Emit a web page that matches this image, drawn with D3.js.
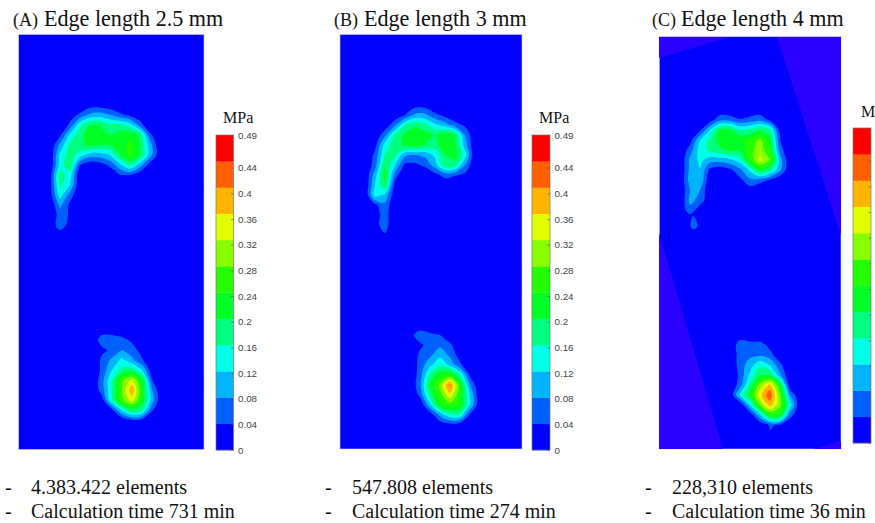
<!DOCTYPE html>
<html>
<head>
<meta charset="utf-8">
<script src="https://cdn.jsdelivr.net/npm/d3@7"></script>
<style>
  body { margin: 0; background: #fff; overflow: hidden; }
  svg { display: block; }
  .serif { font-family: "Liberation Serif", serif; fill: #111; }
  .cbar text { font-family: "Liberation Sans", sans-serif; font-size: 9.8px; fill: #444; }
</style>
</head>
<body>
<script>
// Pressure, MPa, one grid per foot region
const forefootA = [
  [0,0,0,0,.02,.02,.01,0,0,0,0,0],
  [0,0,.02,.05,.09,.10,.08,.05,.03,.01,0,0],
  [0,0,.05,.15,.20,.20,.17,.17,.14,.06,0,0],
  [0,.03,.13,.18,.24,.22,.20,.22,.23,.19,.05,0],
  [0,.09,.17,.19,.21,.20,.20,.22,.25,.20,.10,0],
  [0,.13,.18,.14,.10,.10,.12,.20,.25,.20,.10,.01],
  [0,.14,.19,.04,.01,.02,.05,.11,.17,.10,.02,0],
  [.02,.18,.14,0,0,0,0,.04,.04,.01,0,0],
  [.02,.17,.12,0,0,0,0,0,0,0,0,0],
  [.02,.14,.06,0,0,0,0,0,0,0,0,0],
  [0,.09,.03,0,0,0,0,0,0,0,0,0],
  [0,.06,.035,0,0,0,0,0,0,0,0,0],
  [0,.07,.02,0,0,0,0,0,0,0,0,0],
  [0,.01,0,0,0,0,0,0,0,0,0,0]
];
const heelA = [
  [0,.02,.02,0,0,0,0,0],
  [.01,.06,.06,.055,.03,0,0,0],
  [0,.03,.05,.08,.06,.02,0,0],
  [0,.05,.09,.13,.09,.045,0,0],
  [0,.05,.12,.17,.18,.12,.01,0],
  [0,.065,.16,.27,.33,.22,.04,0],
  [0,.06,.16,.28,.39,.24,.08,0],
  [0,.02,.16,.27,.34,.23,.10,0],
  [0,0,.03,.13,.20,.17,.045,0],
  [0,0,0,.01,.04,.03,0,0],
  [0,0,0,0,0,0,0,0]
];
const forefootB = [
  [0,0,0,0,0,.02,.02,0,0,0,0,0,0],
  [0,0,0,.01,.04,.09,.09,.05,.025,0,0,0,0],
  [0,0,.01,.07,.16,.19,.17,.13,.10,.06,.03,0,0],
  [0,0,.07,.17,.21,.23,.22,.20,.23,.20,.08,0,0],
  [0,.025,.14,.18,.21,.22,.20,.18,.23,.21,.10,0,0],
  [0,.05,.16,.17,.09,.08,.09,.13,.20,.22,.14,0,0],
  [0,.06,.20,.12,.03,.03,.05,.10,.19,.18,.08,0,0],
  [0,.10,.22,.06,0,0,0,.025,.055,.045,.03,0,0],
  [0,.12,.20,.02,0,0,0,0,.01,0,0,0,0],
  [0,.14,.11,.01,0,0,0,0,0,0,0,0,0],
  [0,.03,.07,0,0,0,0,0,0,0,0,0,0],
  [0,.02,.06,0,0,0,0,0,0,0,0,0,0],
  [0,.025,.06,0,0,0,0,0,0,0,0,0,0],
  [0,0,.035,0,0,0,0,0,0,0,0,0,0],
  [0,0,0,0,0,0,0,0,0,0,0,0,0]
];
const heelB = [
  [0,0,0,0,0,0,0,0],
  [.02,.07,.05,.04,0,0,0,0],
  [0,.03,.06,.07,.05,0,0,0],
  [0,.05,.07,.11,.07,.02,0,0],
  [0,.055,.11,.15,.11,.05,0,0],
  [0,.06,.17,.23,.25,.16,.03,0],
  [0,.07,.21,.29,.41,.25,.08,0],
  [0,.05,.18,.26,.35,.24,.12,0],
  [0,0,.11,.23,.26,.24,.12,0],
  [0,0,.01,.09,.15,.15,.03,0],
  [0,0,0,.01,.02,.01,0,0]
];
const forefootC = [
  [0,0,0,0,.01,0,0,0,.01,0,0,0],
  [0,0,0,.02,.07,.07,.045,.06,.07,.03,0,0],
  [0,0,.03,.12,.21,.21,.16,.17,.20,.17,.02,0],
  [0,.02,.12,.17,.22,.23,.23,.25,.29,.22,.04,0],
  [0,.06,.14,.17,.19,.21,.21,.26,.31,.24,.06,0],
  [0,.09,.13,.10,.10,.11,.14,.25,.33,.28,.10,0],
  [0,.09,.12,.03,.01,.03,.07,.13,.22,.17,.09,0],
  [0,.10,.12,0,0,0,.03,.07,.06,.035,0,0],
  [0,.08,.08,0,0,0,0,.02,0,0,0,0],
  [0,.09,.07,0,0,0,0,0,0,0,0,0],
  [0,.07,.01,0,0,0,0,0,0,0,0,0],
  [0,0,0,0,0,0,0,0,0,0,0,0]
];
const toeDripC = [
  [0,0,0],
  [0,.05,.01],
  [0,.08,.03],
  [0,.07,.035],
  [0,0,0]
];
const heelC = [
  [0,.02,0,0,0,0,0,0],
  [.01,.06,.06,.06,.025,0,0,0],
  [0,.06,.07,.075,.055,.01,0,0],
  [0,.06,.10,.15,.12,.05,0,0],
  [0,.05,.13,.20,.20,.09,0,0],
  [0,.06,.17,.30,.37,.23,0,0],
  [0,.13,.22,.35,.43,.28,.08,0],
  [0,0,.12,.28,.38,.29,.14,0],
  [0,0,.01,.11,.24,.23,.06,0],
  [0,0,0,.01,.045,.035,0,0]
];

const levels = [.04,.08,.12,.16,.2,.24,.28,.32,.36,.4,.44];
const bandColors = ["#0000ff","#0060ff","#00b4ff","#00ffe6","#00ff80","#00ff24","#24ff00",
    "#87ff00","#e1ff00","#ffb400","#ff5f00","#ff0000"];
const tickValues = [0,.04,.08,.12,.16,.2,.24,.28,.32,.36,.4,.44,.49];

const panelLetters = ["(A)", "(B)", "(C)"];
const edgeLengths = ["Edge length 2.5 mm", "Edge length 3 mm", "Edge length 4 mm"];
const elementCounts = ["4.383.422 elements", "547.808 elements", "228,310 elements"];
const calcTimes = ["Calculation time 731 min", "Calculation time 274 min", "Calculation time 36 min"];
const unitLabels = ["MPa", "MPa", "M"];

// Corners of the parts of plot C that the tilted mesh does not cover
const outsideMeshC = [
  [[659,37],[730,37],[659,58]],
  [[777,37],[841,37],[841,235]],
  [[659,233],[723,449],[659,449]],
  [[813,449],[841,441],[841,449]]
];

// Layout
const panels = [
  { plot: [18.7,204,34.5,449.5], bar: [216,233.5,135,450], unitX: 223, letterX: 13, titleX: 44, dashX: 5, textX: 31,
    grids: [{ v: forefootA, x0: 50, y0: 105, step: 10 }, { v: heelA, x0: 92, y0: 330, step: 10 }] },
  { plot: [340,522,34.5,449], bar: [532,550,135,450], unitX: 539, letterX: 334, titleX: 364, dashX: 325, textX: 352,
    grids: [{ v: forefootB, x0: 365, y0: 105, step: 10 }, { v: heelB, x0: 410, y0: 325, step: 10 }] },
  { plot: [659.3,841,36.7,449], bar: [853,871,128,443], unitX: 861, letterX: 652, titleX: 681, dashX: 645, textX: 672,
    grids: [{ v: forefootC, x0: 680, y0: 110, step: 10 }, { v: toeDripC, x0: 688, y0: 212, step: 5 },
            { v: heelC, x0: 730, y0: 335, step: 10 }] }
];

const svg = d3.select("body").append("svg").attr("width", 875).attr("height", 523);

panels.forEach((p, i) => {
  const [left, right, top, bottom] = p.plot;

  svg.append("rect").attr("x", left).attr("y", top)
      .attr("width", right - left).attr("height", bottom - top)
      .attr("fill", bandColors[0]).attr("stroke", "#c8c8f4").attr("stroke-width", 0.6);

  const field = svg.append("g").style("filter", "blur(0.6px)");

  if (i === 2) {
    field.selectAll(".mesh").data(outsideMeshC).enter().append("path")
        .attr("class", "mesh")
        .attr("d", d => d3.line()(d) + "Z")
        .attr("fill", "#2a00ff");
  }

  // Filled bands, lowest first. Rings are rounded off a little, the original is a smooth render
  p.grids.forEach(g => {
    const rows = g.v.length, cols = g.v[0].length;
    const gx = d3.scaleLinear().domain([0, 1]).range([g.x0, g.x0 + g.step]);
    const gy = d3.scaleLinear().domain([0, 1]).range([g.y0, g.y0 + g.step]);
    const ring = d3.line()
        .x(d => gx(d[0] - 0.5))
        .y(d => gy(d[1] - 0.5))
        .curve(d3.curveCatmullRomClosed.alpha(0.5));
    const bands = d3.contours().size([cols, rows]).thresholds(levels)(g.v.flat());
    field.append("g").selectAll("path").data(bands).enter().append("path")
        .attr("d", d => d.coordinates.flat().map(r => ring(r.slice(0, -1))).join(""))
        .attr("fill-rule", "evenodd")
        .attr("fill", (d, k) => bandColors[k + 1]);
  });

  // Colour bar
  const [bl, br, bt, bb] = p.bar;
  const bandY = d3.scaleBand().domain(d3.range(bandColors.length)).range([bb, bt]);
  const barW = br - bl;
  const bar = svg.append("g").attr("class", "cbar");
  bar.selectAll("rect").data(bandColors).enter().append("rect")
      .attr("x", bl).attr("y", (d, k) => bandY(k))
      .attr("width", barW).attr("height", bandY.bandwidth() + 0.3)
      .attr("fill", d => d);
  bar.append("rect").attr("x", bl).attr("y", bt).attr("width", barW).attr("height", bb - bt)
      .attr("fill", "none").attr("stroke", "#7a7a6a").attr("stroke-width", 0.7);

  const tickY = d3.scaleLinear().domain([0, .44, .49]).range([bb, bb - 282.3, bt]);
  const axis = d3.axisRight(tickY).tickValues(tickValues).tickSize(-2.5).tickPadding(7)
      .tickFormat(d => String(+d.toFixed(2)));
  const axisG = bar.append("g").attr("transform", `translate(${br},0)`).call(axis);
  axisG.select(".domain").remove();
  axisG.selectAll("line").attr("stroke", "#555").attr("stroke-width", 0.6);
  axisG.selectAll("text").attr("x", 4.5);
  // third bar has its labels cut off by the picture edge
  if (i === 2) axisG.selectAll("text").remove();

  svg.append("text").attr("class", "serif").attr("x", p.unitX).attr("y", i === 2 ? 117 : 123)
      .attr("font-size", 16).text(unitLabels[i]);

  // Titles
  svg.append("text").attr("class", "serif").attr("x", p.letterX).attr("y", 25.5)
      .attr("font-size", 18).text(panelLetters[i]);
  svg.append("text").attr("class", "serif").attr("x", p.titleX).attr("y", 25.5)
      .attr("font-size", 22.1).text(edgeLengths[i]);

  // Notes under the plot
  [elementCounts[i], calcTimes[i]].forEach((t, k) => {
    const y = 494 + k * 24;
    svg.append("text").attr("class", "serif").attr("x", p.dashX).attr("y", y)
        .attr("font-size", 20).text("-");
    svg.append("text").attr("class", "serif").attr("x", p.textX).attr("y", y)
        .attr("font-size", 20).text(t);
  });
});
</script>
</body>
</html>
